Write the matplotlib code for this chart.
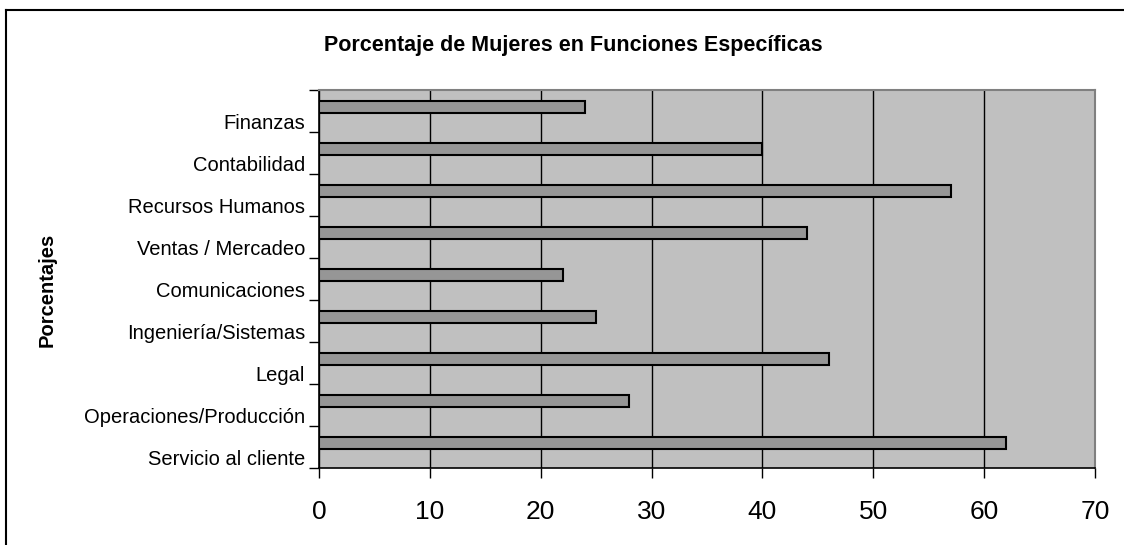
import numpy as np
import matplotlib.pyplot as plt
from matplotlib.lines import Line2D

# Datos (de arriba hacia abajo)
categorias = ['Finanzas', 'Contabilidad', 'Recursos Humanos', 'Ventas / Mercadeo',
              'Comunicaciones', 'Ingeniería/Sistemas', 'Legal',
              'Operaciones/Producción', 'Servicio al cliente']
porcentajes = [24, 40, 57, 44, 22, 25, 46, 28, 62]
ticks_x = [0, 10, 20, 30, 40, 50, 60, 70]

plt.rcParams['font.family'] = ['Liberation Sans', 'DejaVu Sans']

fig = plt.figure(figsize=(11.24, 5.45), dpi=100)
ax = fig.add_axes([0.2838, 0.1413, 0.6904, 0.6936])

n = len(categorias)
pos = np.arange(n)  # 0 = arriba
ax.set_facecolor('#C0C0C0')

# barras desplazadas hacia arriba dentro de cada ranura (estilo Excel)
ax.barh(pos - 0.09, porcentajes, height=0.28, color='#969696',
        edgecolor='black', linewidth=1.5, zorder=3)

ax.set_xlim(0, 70)
ax.set_ylim(n - 0.5, -0.5)
ax.set_xticks(ticks_x)
ax.set_xticklabels([str(t) for t in ticks_x], fontsize=19)
ax.tick_params(axis='x', length=7, width=1, pad=16, direction='out')
ax.xaxis.grid(True, color='black', linewidth=1, zorder=1)
ax.set_axisbelow(True)

# etiquetas un poco mas abajo del centro de la ranura
ax.set_yticks(pos + 0.26)
ax.set_yticklabels(categorias, fontsize=14.5)
ax.tick_params(axis='y', length=0, pad=10)
ax.set_yticks(np.arange(n + 1) - 0.5, minor=True)
ax.tick_params(axis='y', which='minor', length=7, width=1, direction='out')

for lado in ['top', 'right']:
    ax.spines[lado].set_color('#808080')
    ax.spines[lado].set_linewidth(1.5)
for lado in ['left', 'bottom']:
    ax.spines[lado].set_color('black')
    ax.spines[lado].set_linewidth(1.2)

ax.set_ylabel('Porcentajes', fontsize=14.5, fontweight='bold')
ax.yaxis.set_label_coords(-0.338, 0.47)

fig.text(0.51, 0.917, 'Porcentaje de Mujeres en Funciones Específicas',
         ha='center', va='center', fontsize=15.5, fontweight='bold')

# marco del grafico (solo visible arriba e izquierda)
fig.add_artist(Line2D([6 / 1124, 6 / 1124], [0, 1 - 9.5 / 545],
                      transform=fig.transFigure, color='black', linewidth=1.5))
fig.add_artist(Line2D([6 / 1124, 1], [1 - 9.5 / 545, 1 - 9.5 / 545],
                      transform=fig.transFigure, color='black', linewidth=1.5))

fig.savefig('out.png', dpi=100)
